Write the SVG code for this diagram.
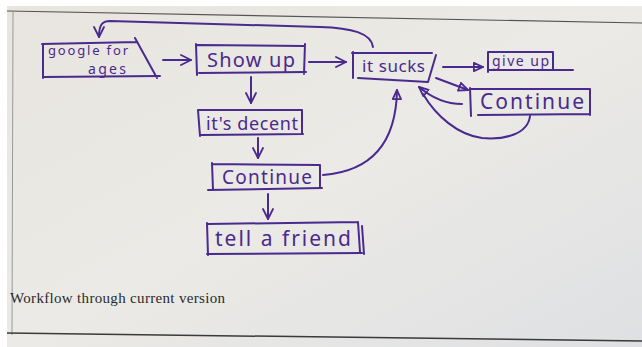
<svg xmlns="http://www.w3.org/2000/svg" width="642" height="347" viewBox="0 0 642 347">
<defs>
<linearGradient id="paper" x1="0" y1="0" x2="1" y2="1">
<stop offset="0" stop-color="#e8e5df"/>
<stop offset="0.5" stop-color="#ebeae6"/>
<stop offset="1" stop-color="#dfe0e3"/>
</linearGradient>
<marker id="chev" viewBox="0 0 12 12" refX="11" refY="6" markerWidth="12" markerHeight="12" markerUnits="userSpaceOnUse" orient="auto">
<path d="M1,1 L11,6 L1,11" fill="none" stroke="#4a2a8e" stroke-width="1.8" stroke-linecap="round" stroke-linejoin="round"/>
</marker>
<marker id="tri" viewBox="0 0 12 12" refX="11" refY="6" markerWidth="11" markerHeight="11" markerUnits="userSpaceOnUse" orient="auto">
<path d="M1,1.5 L11,6 L1,10.5 Z" fill="none" stroke="#4a2a8e" stroke-width="2" stroke-linejoin="round"/>
</marker>
</defs>
<style>
.ink{fill:none;stroke:#4a2a8e;stroke-width:2;stroke-linecap:round;stroke-linejoin:round}
.lbl{font-family:"Noto Sans","DejaVu Sans",sans-serif;fill:#4a2a8e}
.cap{font-family:"Liberation Serif","Times New Roman",serif;fill:#2a2a2a;font-size:15px}
.edge{fill:none;stroke:#4a2a8e;stroke-width:2;stroke-linecap:round}
</style>
<rect x="0" y="0" width="642" height="347" fill="#ffffff"/>
<path d="M7,6 L642,6 L642,347 L7,347 Z" fill="url(#paper)"/>
<path d="M7,11 L642,23" stroke="#555" stroke-width="1.2" fill="none"/>
<path d="M13,11 L12,335" stroke="#9a9a9a" stroke-width="1" fill="none"/>
<path d="M7,333 L642,341" stroke="#3a3a3a" stroke-width="1.5" fill="none"/>

<g id="google">
<path class="ink" d="M43,44 L43,78 M42,44 L137,42 M135,38 L157,78 M43,77 L160,76"/>
<text class="lbl" x="48" y="55" font-size="13" textLength="80" lengthAdjust="spacing">google for</text>
<text class="lbl" x="88" y="74" font-size="14" textLength="38" lengthAdjust="spacing">ages</text>
</g>
<g id="showup">
<path class="ink" d="M196,44 L197,75 M197,45 L304,46 M305,44 L304,74 M199,73 L306,72"/>
<text class="lbl" x="207" y="67" font-size="20" textLength="88" lengthAdjust="spacing">Show up</text>
</g>
<g id="itsucks">
<path class="ink" d="M353,52 L353,78 M352,53 L432,53 M436,55 L428,82 M358,78 L428,82"/>
<text class="lbl" x="362" y="72" font-size="17" textLength="63" lengthAdjust="spacing">it sucks</text>
</g>
<g id="giveup">
<path class="ink" d="M488,52 L488,72 M488,52 L553,52 M553,52 L553,70 M488,70 L573,70"/>
<text class="lbl" x="492" y="66" font-size="14" textLength="57" lengthAdjust="spacing">give up</text>
</g>
<g id="continue2">
<path class="ink" d="M470,88 L471,116 M470,89 L590,89 M590,89 L590,115 M478,115 L590,114"/>
<text class="lbl" x="480" y="109" font-size="21" textLength="104" lengthAdjust="spacing">Continue</text>
</g>
<g id="decent">
<path class="ink" d="M198,110 L200,136 M199,110 L302,110 M302,110 L302,134 M200,135 L303,134"/>
<text class="lbl" x="206" y="130" font-size="18" textLength="92" lengthAdjust="spacing">it's decent</text>
</g>
<g id="continue1">
<path class="ink" d="M212,163 L213,190 M212,164 L320,165 M320,165 L320,188 M208,190 L322,188"/>
<text class="lbl" x="222" y="184" font-size="19" textLength="90" lengthAdjust="spacing">Continue</text>
</g>
<g id="friend">
<path class="ink" d="M207,223 L208,255 M208,224 L358,222 M358,222 L360,252 M362,226 L364,254 M207,254 L362,253"/>
<text class="lbl" x="215" y="246" font-size="21" textLength="136" lengthAdjust="spacing">tell a friend</text>
</g>

<g id="connectors">
<path class="edge" d="M163,60 L191,60" marker-end="url(#chev)"/>
<path class="edge" d="M309,62 L346,62" marker-end="url(#chev)"/>
<path class="edge" d="M373,47 C371,33 352,28 320,27 L110,21 C102,21 99,25 99,37" marker-end="url(#chev)"/>
<path class="edge" d="M443,67 L483,67" stroke-width="2.5" marker-end="url(#tri)"/>
<path class="edge" d="M436,78 L468,90" stroke-width="2.5" marker-end="url(#tri)"/>
<path class="edge" d="M462,104 C448,104 432,98 419,87" marker-end="url(#tri)"/>
<path class="edge" d="M530,116 C528,134 505,140 482,138 C458,135 436,116 423,94"/>
<path class="edge" d="M323,175 C362,172 396,152 397,90" marker-end="url(#tri)"/>
<path class="edge" d="M251,77 L251,103" marker-end="url(#chev)"/>
<path class="edge" d="M258,138 L258,158" marker-end="url(#chev)"/>
<path class="edge" d="M268,194 L268,219" marker-end="url(#chev)"/>
</g>

<text class="cap" x="10" y="303" textLength="215" lengthAdjust="spacing">Workflow through current version</text>
</svg>
